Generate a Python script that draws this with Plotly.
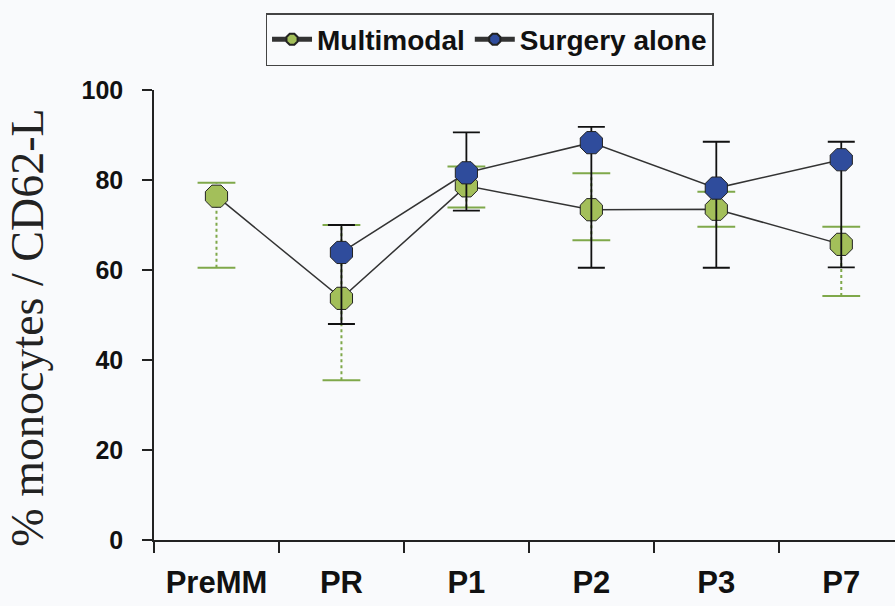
import plotly.graph_objects as go

# ---- data ----
categories = ["PreMM", "PR", "P1", "P2", "P3", "P7"]

multimodal = [76.4, 53.7, 78.7, 73.4, 73.5, 65.7]
multimodal_hi = [79.4, 70.0, 83.0, 81.5, 77.4, 69.6]
multimodal_lo = [60.5, 35.5, 73.9, 66.6, 69.6, 54.2]

surgery = [None, 63.9, 81.6, 88.3, 78.2, 84.5]
surgery_hi = [None, 70.0, 90.6, 91.8, 88.5, 88.5]
surgery_lo = [None, 48.0, 73.2, 60.5, 60.5, 60.6]

y_ticks = [0, 20, 40, 60, 80, 100]

# ---- styles ----
GREEN = "#A3BF5A"
GREEN_ERR = "#7FA84A"
BLUE = "#2F4C9C"
LINE = "#333333"
BG = "#F9FAFC"

fig = go.Figure()

# green dotted error stems
stem_x, stem_y = [], []
for c, lo, hi in zip(categories, multimodal_lo, multimodal_hi):
    stem_x += [c, c, None]
    stem_y += [lo, hi, None]
fig.add_trace(go.Scatter(
    x=stem_x, y=stem_y, mode="lines",
    line=dict(color=GREEN_ERR, width=2, dash="dot"),
    showlegend=False, hoverinfo="skip"))

# green caps
fig.add_trace(go.Scatter(
    x=categories + categories, y=multimodal_hi + multimodal_lo, mode="markers",
    marker=dict(symbol="line-ew", size=27, line=dict(color=GREEN_ERR, width=2)),
    showlegend=False, hoverinfo="skip"))

# Multimodal
fig.add_trace(go.Scatter(
    x=categories, y=multimodal, mode="lines+markers", name="Multimodal",
    line=dict(color=LINE, width=1.5),
    marker=dict(symbol="octagon", size=24, color=GREEN, line=dict(color="#222", width=1))))

# Surgery alone with black error bars
s_plus = [None if v is None else h - v for v, h in zip(surgery, surgery_hi)]
s_minus = [None if v is None else v - l for v, l in zip(surgery, surgery_lo)]
fig.add_trace(go.Scatter(
    x=categories, y=surgery, mode="lines+markers", name="Surgery alone",
    line=dict(color=LINE, width=1.5),
    marker=dict(symbol="octagon", size=24, color=BLUE, line=dict(color="#222", width=1)),
    error_y=dict(type="data", symmetric=False, array=s_plus, arrayminus=s_minus,
                 color="#111", thickness=1.8, width=13.5)))

fig.update_layout(
    width=895, height=606,
    margin=dict(l=154, r=0, t=90, b=66),
    paper_bgcolor=BG, plot_bgcolor=BG,
    font=dict(family="Liberation Sans, Arial, sans-serif", color="#111"),
    showlegend=True,
    legend=dict(
        orientation="h", x=0.4528, xanchor="center", y=1.171, yanchor="top",
        bordercolor="#444", borderwidth=1.5, bgcolor="rgba(0,0,0,0)",
        font=dict(size=28, family="Liberation Sans, Arial, sans-serif", weight="bold"),
        itemsizing="constant", itemwidth=40,
    ),
)

fig.update_xaxes(
    type="category", categoryorder="array", categoryarray=categories,
    range=[-0.5, 5.43], showgrid=False, zeroline=False, automargin=False,
    showline=True, linecolor="#222", linewidth=1.5,
    ticks="outside", tickson="boundaries", ticklen=11, tickwidth=1.5, tickcolor="#222",
    tickfont=dict(size=31, family="Liberation Sans, Arial, sans-serif", weight="bold"),
    ticklabelstandoff=14,
)

fig.update_yaxes(
    range=[0, 100], tickvals=y_ticks, showgrid=False, zeroline=False, automargin=False,
    showline=True, linecolor="#222", linewidth=1.5,
    ticks="outside", ticklen=10, tickwidth=1.5, tickcolor="#222",
    tickfont=dict(size=25, family="Liberation Sans, Arial, sans-serif", weight="bold"),
    ticklabelstandoff=14,
)

fig.add_annotation(
    text="% monocytes / CD62-L", xref="paper", yref="paper",
    x=-0.170, y=0.472, xanchor="center", yanchor="middle",
    textangle=-90, showarrow=False,
    font=dict(size=46, family="Liberation Serif, Times New Roman, serif", color="#222"),
)

fig.write_html("out.html", config={"displayModeBar": False},
               post_script="document.body.style.margin='0';document.body.style.background='" + BG + "';")
